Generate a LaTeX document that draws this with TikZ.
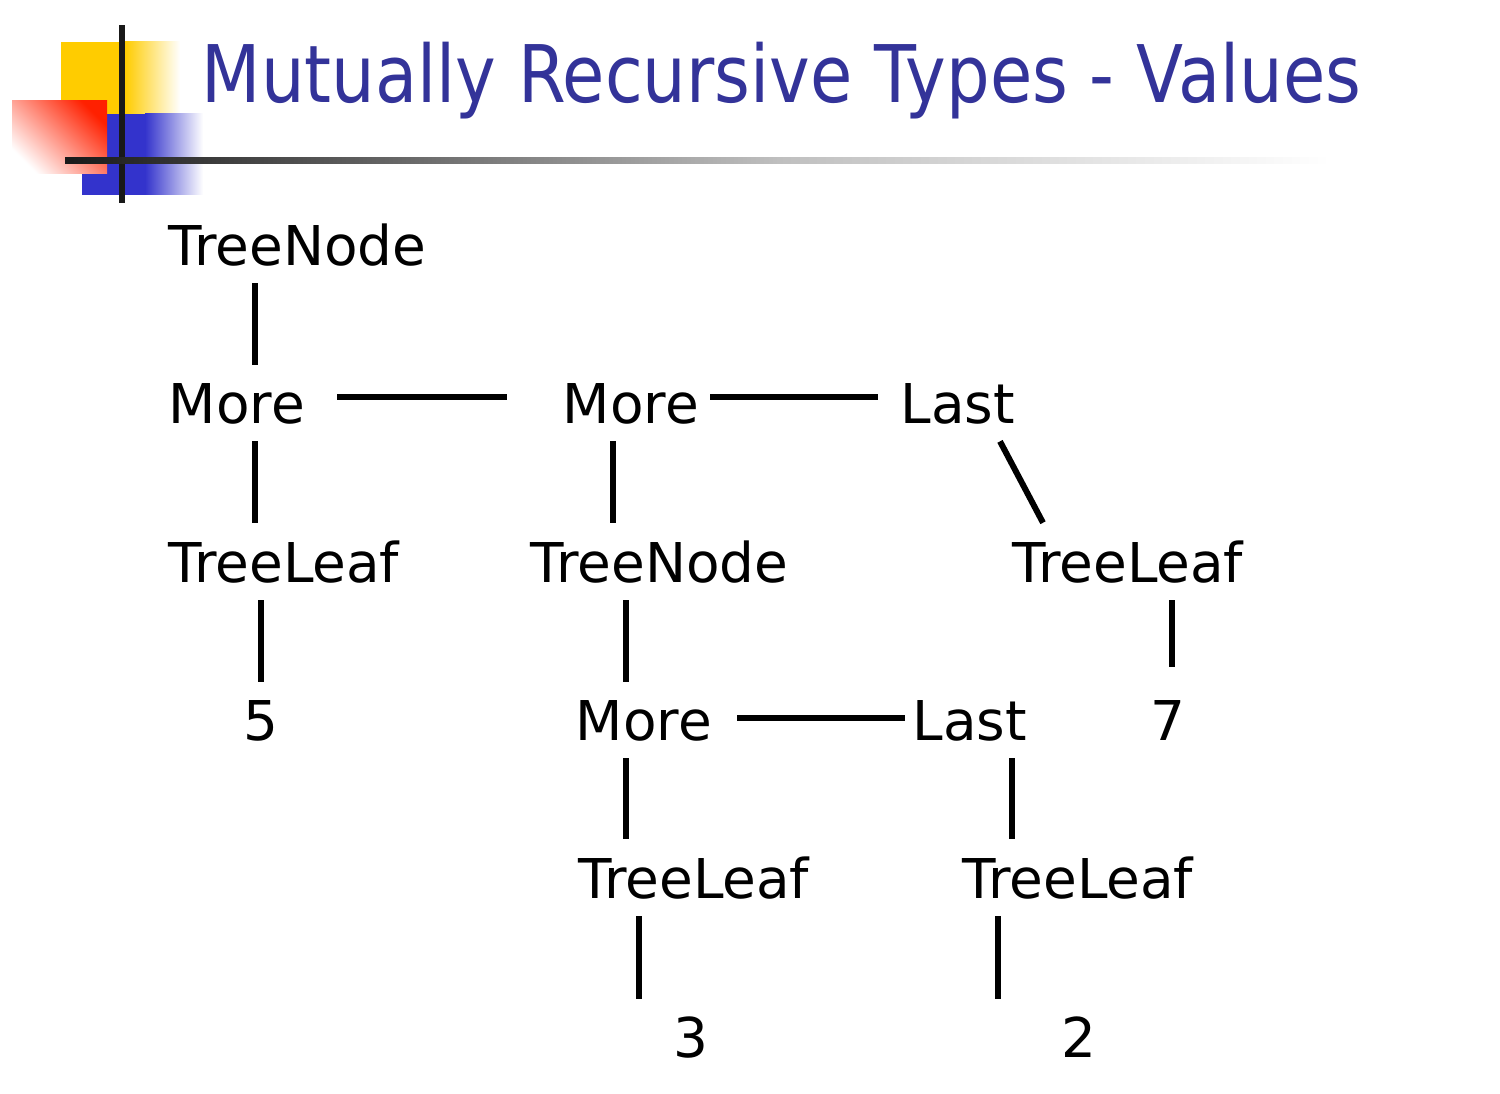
\documentclass[tikz,border=0pt]{standalone}
\usepackage{fontspec}
\setmainfont{DejaVu Sans}
\newfontfamily\titlefont[FakeStretch=0.865]{DejaVu Sans}
\definecolor{titleblue}{HTML}{333399}
\definecolor{logoyellow}{HTML}{FFCC00}
\definecolor{logoblue}{HTML}{3333CC}
\definecolor{logored}{HTML}{FF2000}
\begin{document}
\begin{tikzpicture}[x=0.01cm,y=-0.01cm]
    \tikzstyle{val}=[anchor=base west, inner sep=4.8pt, xshift=-4.8pt,
        font=\fontsize{15.6pt}{18pt}\selectfont]
    \tikzstyle{link}=[line width=1.7pt]
    \useasboundingbox (0,0) rectangle (1500,1094);

    % logo
    \fill[logoyellow] (61,42) rectangle (125,114);
    \shade[left color=logoyellow, right color=white] (125,42) rectangle (180,114);
    \fill[logoblue] (82,114) rectangle (145,195);
    \shade[left color=logoblue, right color=white] (145,114) rectangle (203,195);
    \shade[top color=logored, bottom color=white, shading angle=-45] (12,101) rectangle (107,174);
    \fill[black!90] (119,25) rectangle (125,203);
    \shade[left color=black!90, right color=black!25] (65,158) rectangle (780,164);
    \shade[left color=black!25, right color=white] (780,158) rectangle (1330,164);
    \node[anchor=base west, inner sep=0pt, text=titleblue,
        font=\titlefont\fontsize{22.6pt}{26pt}\selectfont] (title) at (201,103)
        {Mutually Recursive Types - Values};

    % values
    \node[val] (tn1) at (168,265) {TreeNode};
    \node[val] (m1)  at (168,423) {More};
    \node[val] (m2)  at (562,423) {More};
    \node[val] (l1)  at (900,423) {Last};
    \node[val] (tl1) at (168,582) {TreeLeaf};
    \node[val] (tn2) at (530,582) {TreeNode};
    \node[val] (tl2) at (1012,582) {TreeLeaf};
    \node[val] (n5)  at (243,740) {5};
    \node[val] (m3)  at (575,740) {More};
    \node[val] (l2)  at (912,740) {Last};
    \node[val] (n7)  at (1150,740) {7};
    \node[val] (tl3) at (578,898) {TreeLeaf};
    \node[val] (tl4) at (962,898) {TreeLeaf};
    \node[val] (n3)  at (673,1057) {3};
    \node[val] (n2)  at (1061,1057) {2};

    \draw[link] (tn1.south -| 255,0) -- (m1.north -| 255,0);
    \draw[link] (m1.south -| 255,0) -- (tl1.north -| 255,0);
    \draw[link] (m2.south -| 613,0) -- (tn2.north -| 613,0);
    \draw[link] (l1.south -| 1000,0) -- (tl2.north -| 1043,0);
    \draw[link] (tl1.south -| 261,0) -- (n5.north -| 261,0);
    \draw[link] (tn2.south -| 626,0) -- (m3.north -| 626,0);
    \draw[link, shorten >=4.5pt] (tl2.south -| 1172,0) -- (n7.north -| 1172,0);
    \draw[link] (m3.south -| 626,0) -- (tl3.north -| 626,0);
    \draw[link] (l2.south -| 1012,0) -- (tl4.north -| 1012,0);
    \draw[link] (tl3.south -| 639,0) -- (n3.north -| 639,0);
    \draw[link] (tl4.south -| 998,0) -- (n2.north -| 998,0);
    \draw[link, shorten <=4.3pt, shorten >=10.8pt] (m1.east |- 0,397) -- (m2.west |- 0,397);
    \draw[link, shorten <=-1.7pt, shorten >=1.4pt] (m2.east |- 0,397) -- (l1.west |- 0,397);
    \draw[link, shorten <=2.3pt, shorten >=-2.8pt] (m3.east |- 0,718) -- (l2.west |- 0,718);
\end{tikzpicture}
\end{document}
